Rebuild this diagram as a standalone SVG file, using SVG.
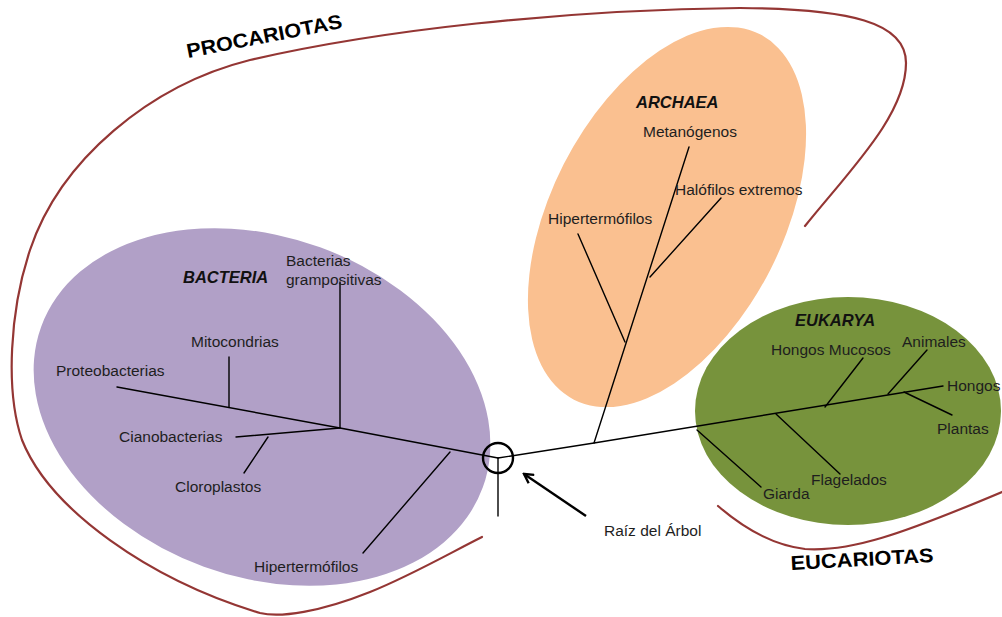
<svg xmlns="http://www.w3.org/2000/svg" width="1002" height="617" viewBox="0 0 1002 617">
<style>
.lbl{font-family:"Liberation Sans",Arial,sans-serif;font-size:15.5px;fill:#1e1e1e}
.dom{font-family:"Liberation Sans",Arial,sans-serif;font-size:16.5px;font-weight:bold;font-style:italic;fill:#111}
.grp{font-family:"Liberation Sans",Arial,sans-serif;font-size:20px;font-weight:bold;fill:#000}
.br{stroke:#000;stroke-width:1.4;fill:none;stroke-linecap:round}
.hull{stroke:#943634;stroke-width:2.2;fill:none;stroke-linecap:round}
</style>
<defs>
<marker id="openArrow" markerWidth="12" markerHeight="12" refX="10" refY="6" orient="auto" markerUnits="userSpaceOnUse">
<path d="M1,1 L10,6 L1,11" fill="none" stroke="#000" stroke-width="2.4"/>
</marker>
</defs>
<rect width="1002" height="617" fill="#fff"/>

<g id="procariotas-hull">
<path class="hull" d="M805,226 C850,170 906,115 906,63 C906,22 850,9 740,8 C560,10 380,30 250,60 C150,85 60,160 30,250 C10,310 5,390 22,440 C50,510 150,580 260,613 C280,618 320,612 370,592 C410,576 450,553 482,537"/>
<text class="grp" transform="translate(188,58) rotate(-11)" textLength="158" lengthAdjust="spacingAndGlyphs">PROCARIOTAS</text>
</g>

<g id="eucariotas-hull">
<path class="hull" d="M718,506 C740,525 770,545 805,549 C850,552 900,535 1002,492"/>
<text class="grp" transform="translate(791,570) rotate(-3.2)" textLength="143" lengthAdjust="spacingAndGlyphs">EUCARIOTAS</text>
</g>

<g id="bacteria">
<ellipse cx="262" cy="407" rx="235" ry="170" transform="rotate(20 262 407)" fill="#B1A0C7"/>
<text class="dom" x="183" y="283">BACTERIA</text>
</g>

<g id="archaea">
<ellipse cx="667" cy="217" rx="116" ry="205" transform="rotate(27 667 217)" fill="#FAC090"/>
<text class="dom" x="636" y="108">ARCHAEA</text>
</g>

<g id="eukarya">
<ellipse cx="848" cy="411" rx="153" ry="114" fill="#77933C"/>
<text class="dom" x="795" y="326">EUKARYA</text>
</g>

<g id="connectors">
<circle cx="498" cy="458" r="15" fill="none" stroke="#000" stroke-width="2.4"/>
<path class="br" d="M498,458 L498,516"/>
<path class="br" d="M498,458 L340,428 L117,387"/>
<path class="br" d="M229,357 L229,407"/>
<path class="br" d="M340,282 L340,428"/>
<path class="br" d="M340,428 L236,437"/>
<path class="br" d="M268,437 L244,473"/>
<path class="br" d="M450,452 L363,553"/>
<path class="br" d="M498,458 L594,443 L943,386"/>
<path class="br" d="M594,443 L689,147"/>
<path class="br" d="M578,234 L625,342"/>
<path class="br" d="M721,198 L650,277"/>
<path class="br" d="M697,430 L761,487"/>
<path class="br" d="M776,414 L840,474"/>
<path class="br" d="M825,407 L863,358"/>
<path class="br" d="M888,394 L927,350"/>
<path class="br" d="M904,392 L952,415"/>
<path d="M586,516 L524,474" stroke="#000" stroke-width="2.4" fill="none" marker-end="url(#openArrow)"/>
</g>

<g id="lbl-grampositivas"><text class="lbl" x="286" y="266">Bacterias</text><text class="lbl" x="286" y="285">grampositivas</text></g>
<g id="lbl-mitocondrias"><text class="lbl" x="191" y="347">Mitocondrias</text></g>
<g id="lbl-proteobacterias"><text class="lbl" x="56" y="376">Proteobacterias</text></g>
<g id="lbl-cianobacterias"><text class="lbl" x="119" y="442">Cianobacterias</text></g>
<g id="lbl-cloroplastos"><text class="lbl" x="175" y="492">Cloroplastos</text></g>
<g id="lbl-hipertermofilos-b"><text class="lbl" x="254" y="572">Hipertermófilos</text></g>
<g id="lbl-metanogenos"><text class="lbl" x="643" y="137">Metanógenos</text></g>
<g id="lbl-halofilos"><text class="lbl" x="675" y="195">Halófilos extremos</text></g>
<g id="lbl-hipertermofilos-a"><text class="lbl" x="548" y="224">Hipertermófilos</text></g>
<g id="lbl-hongos-mucosos"><text class="lbl" x="771" y="355">Hongos Mucosos</text></g>
<g id="lbl-animales"><text class="lbl" x="902" y="347">Animales</text></g>
<g id="lbl-hongos"><text class="lbl" x="947" y="391">Hongos</text></g>
<g id="lbl-plantas"><text class="lbl" x="937" y="434">Plantas</text></g>
<g id="lbl-flagelados"><text class="lbl" x="811" y="485">Flagelados</text></g>
<g id="lbl-giarda"><text class="lbl" x="763" y="499">Giarda</text></g>
<g id="lbl-raiz"><text class="lbl" x="604" y="536" fill="#333">Raíz del Árbol</text></g>
</svg>
